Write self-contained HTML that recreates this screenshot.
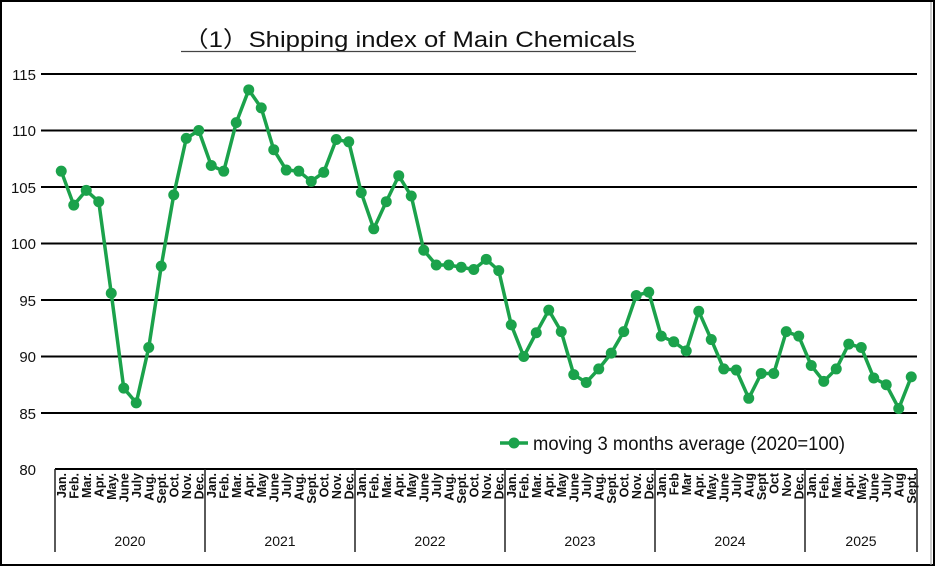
<!DOCTYPE html>
<html><head><meta charset="utf-8"><style>
html,body{margin:0;padding:0;background:#fff}
#w{position:relative;width:936px;height:567px;overflow:hidden}
svg{position:absolute;left:0;top:0}
text{font-family:"Liberation Sans",sans-serif}
</style></head><body><div id="w">
<svg id="s" width="936" height="567" viewBox="0 0 936 567">
<rect x="1" y="1" width="933" height="564" fill="#fff" stroke="#000" stroke-width="2"/>
<line x1="931" y1="2" x2="931" y2="565" stroke="#999" stroke-width="1"/>
<text x="183" y="47" font-size="22" textLength="452" lengthAdjust="spacingAndGlyphs" fill="#111">（1）Shipping index of Main Chemicals</text>
<line x1="181" y1="51.5" x2="636" y2="51.5" stroke="#444" stroke-width="1.2"/>
<g stroke="#000" stroke-width="2">
<line x1="41" y1="74" x2="917" y2="74"/><line x1="41" y1="130.5" x2="917" y2="130.5"/>
<line x1="41" y1="187" x2="917" y2="187"/><line x1="41" y1="243.5" x2="917" y2="243.5"/>
<line x1="41" y1="300" x2="917" y2="300"/><line x1="41" y1="356.5" x2="917" y2="356.5"/>
<line x1="41" y1="413" x2="917" y2="413"/><line x1="55" y1="469" x2="917" y2="469"/>
</g>
<g stroke="#222" stroke-width="1.5">
<line x1="55" y1="469" x2="55" y2="552"/><line x1="205" y1="469" x2="205" y2="552"/>
<line x1="355" y1="469" x2="355" y2="552"/><line x1="505" y1="469" x2="505" y2="552"/>
<line x1="655" y1="469" x2="655" y2="552"/><line x1="805" y1="469" x2="805" y2="552"/>
<line x1="917" y1="469" x2="917" y2="552"/>
</g>
<g font-size="15" text-anchor="end" fill="#111">
<text x="36" y="80">115</text><text x="36" y="136">110</text><text x="36" y="193">105</text>
<text x="36" y="249">100</text><text x="36" y="306">95</text><text x="36" y="362">90</text>
<text x="36" y="419">85</text><text x="36" y="475">80</text>
</g>
<g font-size="14" text-anchor="middle" fill="#111">
<text x="130" y="546">2020</text><text x="280" y="546">2021</text><text x="430" y="546">2022</text>
<text x="580" y="546">2023</text><text x="730" y="546">2024</text><text x="861" y="546">2025</text>
</g>
<g id="m" font-size="12.5" font-weight="bold" text-anchor="end" fill="#111"></g>
<g id="d"></g>
<line x1="500" y1="443" x2="528" y2="443" stroke="#1ba24b" stroke-width="3.5"/>
<circle cx="514" cy="443" r="5.5" fill="#1ba24b"/>
<text x="533" y="450" font-size="19" fill="#111" textLength="312" lengthAdjust="spacingAndGlyphs">moving 3 months average (2020=100)</text>
</svg></div>
<script>
var names=[
["Jan.","Feb.","Mar.","Apr.","May.","June","July","Aug.","Sept.","Oct.","Nov.","Dec."],
["Jan.","Feb.","Mar.","Apr.","May","June","July","Aug.","Sept.","Oct.","Nov.","Dec."],
["Jan.","Feb.","Mar.","Apr.","May","June","July","Aug.","Sept.","Oct.","Nov.","Dec."],
["Jan.","Feb.","Mar.","Apr.","May","June","July","Aug.","Sept.","Oct.","Nov.","Dec."],
["Jan.","Feb","Mar","Apr.","May.","June","July","Aug","Sept","Oct","Nov","Dec."],
["Jan.","Feb.","Mar.","Apr.","May.","June","July","Aug","Sept."]];
var v=[106.4,103.4,104.7,103.7,95.6,87.2,85.9,90.8,98.0,104.3,109.3,110.0,
106.9,106.4,110.7,113.6,112.0,108.3,106.5,106.4,105.5,106.3,109.2,109.0,
104.5,101.3,103.7,106.0,104.2,99.4,98.1,98.1,97.9,97.7,98.6,97.6,
92.8,90.0,92.1,94.1,92.2,88.4,87.7,88.9,90.3,92.2,95.4,95.7,
91.8,91.3,90.5,94.0,91.5,88.9,88.8,86.3,88.5,88.5,92.2,91.8,
89.2,87.8,88.9,91.1,90.8,88.1,87.5,85.4,88.2];
var NS="http://www.w3.org/2000/svg",m=document.getElementById("m"),d=document.getElementById("d");
var k=0,pts=[];
names.forEach(function(y){y.forEach(function(n){
 var x=61.25+k*12.5;
 var t=document.createElementNS(NS,"text");t.setAttribute("transform","translate("+(x+4.5)+",473) rotate(-90)");t.textContent=n;m.appendChild(t);k++;});});
v.forEach(function(a,i){pts.push((61.25+i*12.5)+","+(74+(115-a)*11.3));});
var p=document.createElementNS(NS,"polyline");p.setAttribute("points",pts.join(" "));p.setAttribute("fill","none");p.setAttribute("stroke","#1ba24b");p.setAttribute("stroke-width","3.5");p.setAttribute("stroke-linejoin","round");d.appendChild(p);
pts.forEach(function(s){var c=document.createElementNS(NS,"circle");var q=s.split(",");c.setAttribute("cx",q[0]);c.setAttribute("cy",q[1]);c.setAttribute("r","5.5");c.setAttribute("fill","#1ba24b");d.appendChild(c);});
</script>
</body></html>
